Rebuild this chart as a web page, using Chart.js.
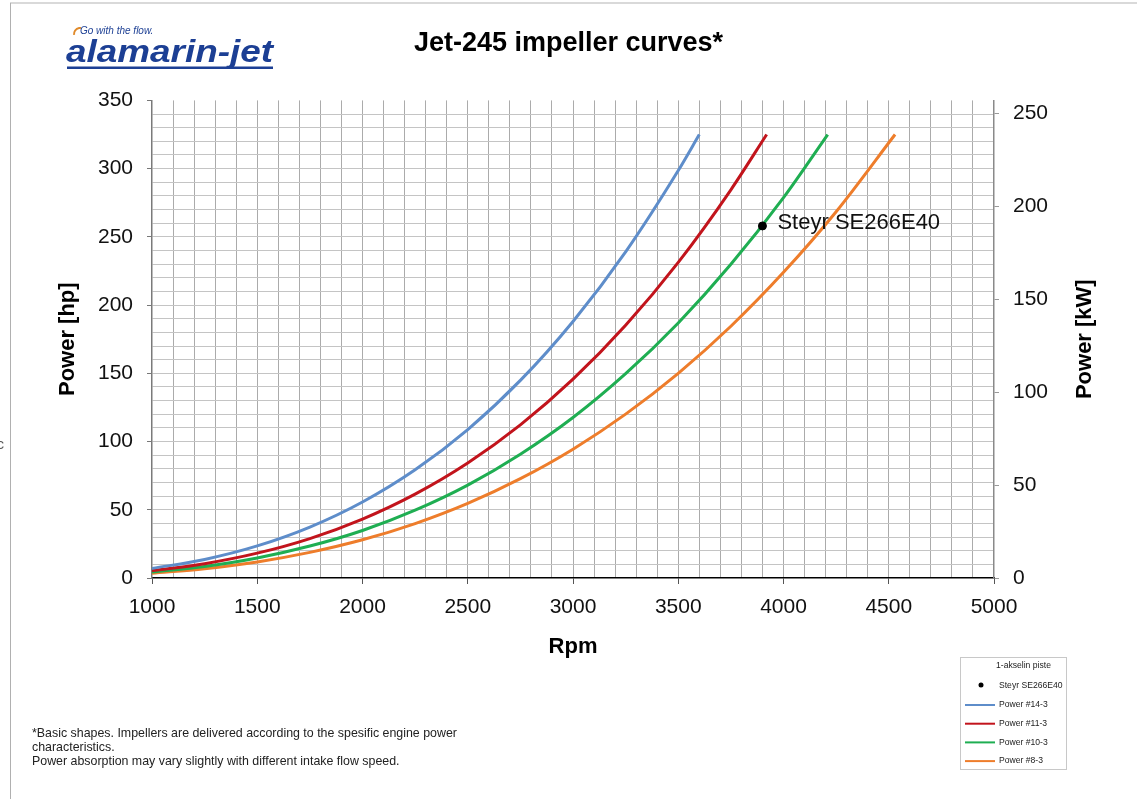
<!DOCTYPE html>
<html>
<head>
<meta charset="utf-8">
<script src="https://cdn.jsdelivr.net/npm/chart.js@4.4.1/dist/chart.umd.min.js"></script>
<style>
  html, body { margin: 0; padding: 0; background: #ffffff; }
  #wrap { position: relative; width: 1137px; height: 799px; }
  canvas { display: block; }
</style>
</head>
<body>
<div id="wrap"><canvas id="c" width="1137" height="799"></canvas></div>
<script>
// ---- data ----
const seriesLabels = ['Power #14-3', 'Power #11-3', 'Power #10-3', 'Power #8-3'];
const seriesColors = ['#5e8dca', '#c2141c', '#1fae52', '#ee7d2b'];

const rpm14 = [1000, 1250, 1500, 1750, 2000, 2250, 2500, 2750, 3000, 3250, 3500, 3600];
const hp14  = [7.0, 13.6, 23.5, 37.3, 55.7, 79.3, 108.8, 144.8, 188.0, 239.0, 298.6, 325.0];

const rpm11 = [1000, 1250, 1500, 1750, 2000, 2250, 2500, 2750, 3000, 3250, 3500, 3750, 3920];
const hp11  = [5.4, 10.5, 18.2, 28.9, 43.2, 61.5, 84.3, 112.2, 145.7, 185.2, 231.3, 284.5, 325.0];

const rpm10 = [1000, 1250, 1500, 1750, 2000, 2250, 2500, 2750, 3000, 3250, 3500, 3750, 4000, 4210];
const hp10  = [4.4, 8.5, 14.7, 23.4, 34.8, 49.7, 68.1, 90.7, 117.6, 149.7, 186.9, 229.9, 278.8, 325.0];

const rpm8  = [1000, 1250, 1500, 1750, 2000, 2250, 2500, 2750, 3000, 3250, 3500, 3750, 4000, 4250, 4530];
const hp8   = [3.5, 6.8, 11.8, 18.8, 28.0, 39.9, 54.7, 72.8, 94.4, 120.1, 150.0, 184.5, 224.0, 268.4, 325.0];

const steyrLabel = 'Steyr SE266E40';
const steyrRpm = [3900];
const steyrHp  = [258];

const xTickLabels = [1000, 1500, 2000, 2500, 3000, 3500, 4000, 4500, 5000];
const hpTickLabels = [0, 50, 100, 150, 200, 250, 300, 350];
const kwTickLabels = [0, 50, 100, 150, 200, 250];

const chartTitle = 'Jet-245 impeller curves*';
const legendTitle = '1-akselin piste';
const footnote = [
  '*Basic shapes. Impellers are delivered according to the spesific engine power',
  'characteristics.',
  'Power absorption may vary slightly with different intake flow speed.'
];

// ---- build ----
const toPts = (xs, ys) => xs.map((x, i) => ({ x: x, y: ys[i] }));
const FONT = "'Liberation Sans', Arial, sans-serif";

const lineSets = [[rpm14, hp14], [rpm11, hp11], [rpm10, hp10], [rpm8, hp8]].map((s, i) => ({
  label: seriesLabels[i],
  data: toPts(s[0], s[1]),
  borderColor: seriesColors[i],
  backgroundColor: seriesColors[i],
  borderWidth: 3,
  pointRadius: 0,
  fill: false,
  cubicInterpolationMode: 'monotone',
  yAxisID: 'y'
}));

const steyrSet = {
  label: steyrLabel,
  data: toPts(steyrRpm, steyrHp),
  showLine: false,
  pointRadius: 4,
  pointBackgroundColor: '#000',
  pointBorderColor: '#000',
  borderColor: '#000',
  backgroundColor: '#000',
  yAxisID: 'y'
};

const extras = {
  id: 'extras',
  afterDraw(chart) {
    const ctx = chart.ctx;
    const area = chart.chartArea;
    ctx.save();

    // page frame
    ctx.strokeStyle = '#d9d9d9'; ctx.lineWidth = 2;
    ctx.beginPath(); ctx.moveTo(10, 3); ctx.lineTo(1137, 3); ctx.stroke();
    ctx.strokeStyle = '#b0b0b0'; ctx.lineWidth = 1;
    ctx.beginPath(); ctx.moveTo(10.5, 3); ctx.lineTo(10.5, 799); ctx.stroke();
    ctx.fillStyle = '#555'; ctx.font = '14px ' + FONT; ctx.textBaseline = 'middle';
    ctx.fillText('c', -3, 445);

    // logo
    ctx.strokeStyle = '#e08a2a'; ctx.lineWidth = 2;
    ctx.beginPath(); ctx.arc(80, 34, 6, Math.PI * 0.95, Math.PI * 1.55); ctx.stroke();
    ctx.fillStyle = '#1c3f94';
    ctx.font = 'italic 10px ' + FONT; ctx.textBaseline = 'middle'; ctx.textAlign = 'left';
    ctx.fillText('Go with the flow.', 80, 31);
    ctx.font = 'italic bold 32px ' + FONT; ctx.textBaseline = 'alphabetic';
    const logo = 'alamarin-jet';
    const w = ctx.measureText(logo).width;
    ctx.save(); ctx.translate(66, 62); ctx.scale(207 / w, 1); ctx.fillText(logo, 0, 0); ctx.restore();
    ctx.fillRect(67, 66.5, 206, 2.5);

    // right axis title
    ctx.fillStyle = '#000';
    ctx.font = 'bold 22px ' + FONT; ctx.textAlign = 'center'; ctx.textBaseline = 'middle';
    ctx.save(); ctx.translate(1085, (area.top + area.bottom) / 2); ctx.rotate(-Math.PI / 2);
    ctx.fillText('Power [kW]', 0, 0); ctx.restore();

    // point label
    const meta = chart.getDatasetMeta(0);
    const p = meta.data[0];
    ctx.font = '22px ' + FONT; ctx.textAlign = 'left'; ctx.fillStyle = '#111';
    ctx.fillText(steyrLabel, p.x + 15, p.y - 3);

    // footnote
    ctx.font = '12.4px ' + FONT; ctx.fillStyle = '#222';
    footnote.forEach((t, i) => ctx.fillText(t, 32, 734 + i * 14));

    // legend box
    ctx.strokeStyle = '#c8c8c8'; ctx.lineWidth = 1;
    ctx.strokeRect(960.5, 657.5, 106, 112);
    ctx.font = '8.6px ' + FONT; ctx.fillStyle = '#222';
    ctx.fillText(legendTitle, 996, 666);
    ctx.beginPath(); ctx.fillStyle = '#000'; ctx.arc(981, 685, 2.5, 0, Math.PI * 2); ctx.fill();
    ctx.fillStyle = '#222'; ctx.fillText(steyrLabel, 999, 686);
    seriesLabels.forEach((lab, i) => {
      const y = 705 + i * 18.7;
      ctx.strokeStyle = seriesColors[i]; ctx.lineWidth = 2;
      ctx.beginPath(); ctx.moveTo(965, y); ctx.lineTo(995, y); ctx.stroke();
      ctx.fillStyle = '#222'; ctx.fillText(lab, 999, y);
    });
    ctx.restore();
  }
};

new Chart(document.getElementById('c'), {
  type: 'line',
  data: { datasets: [steyrSet].concat(lineSets) },
  plugins: [extras],
  options: {
    responsive: false,
    animation: false,
    layout: { padding: { left: 0, right: 0, top: 0, bottom: 139 } },
    plugins: {
      legend: { display: false },
      tooltip: { enabled: false },
      title: {
        display: true,
        text: chartTitle,
        color: '#000',
        font: { family: FONT, size: 27, weight: 'bold' },
        padding: { top: 27, bottom: 41 }
      }
    },
    scales: {
      x: {
        type: 'linear',
        min: 1000, max: 5000,
        afterFit: s => { s.height = 82; },
        border: { color: '#000', width: 1.5 },
        grid: {
          color: c => (c.tick && (c.tick.value === 1000 || c.tick.value === 5000)) ? 'rgba(0,0,0,0)' : '#ababab',
          lineWidth: 1,
          tickLength: 6,
          tickColor: c => (c.tick && xTickLabels.includes(c.tick.value)) ? '#555' : 'rgba(0,0,0,0)'
        },
        ticks: {
          stepSize: 100, autoSkip: false, maxRotation: 0, padding: 11,
          color: '#111', font: { family: FONT, size: 21 },
          callback: v => xTickLabels.includes(v) ? String(v) : ''
        },
        title: { display: true, text: 'Rpm', color: '#000', font: { family: FONT, size: 22, weight: 'bold' }, padding: { top: 0, bottom: 0 } }
      },
      y: {
        position: 'left',
        min: 0, max: 350,
        afterFit: s => { s.width = 152; },
        border: { color: '#7a7a7a', width: 1.5 },
        grid: {
          color: c => (c.tick && (c.tick.value === 0 || c.tick.value === 350)) ? 'rgba(0,0,0,0)' : '#c4c4c4',
          lineWidth: 1,
          tickLength: 5,
          tickColor: c => (c.tick && hpTickLabels.includes(c.tick.value)) ? '#777' : 'rgba(0,0,0,0)'
        },
        ticks: {
          stepSize: 10, autoSkip: false, padding: 14,
          color: '#111', font: { family: FONT, size: 21 },
          callback: v => hpTickLabels.includes(v) ? String(v) : ''
        },
        title: { display: true, text: 'Power [hp]', color: '#000', font: { family: FONT, size: 22, weight: 'bold' }, padding: { top: 55, bottom: 0 } }
      },
      y1: {
        position: 'right',
        min: 0, max: 257,
        afterFit: s => { s.width = 143; },
        afterBuildTicks: s => { s.ticks = kwTickLabels.map(v => ({ value: v })); },
        border: { color: '#8a8a8a', width: 1.5 },
        grid: { drawOnChartArea: false, tickLength: 5, tickColor: '#999' },
        ticks: {
          autoSkip: false, padding: 14,
          color: '#111', font: { family: FONT, size: 21 },
          callback: v => String(v)
        }
      }
    }
  }
});
</script>
</body>
</html>
